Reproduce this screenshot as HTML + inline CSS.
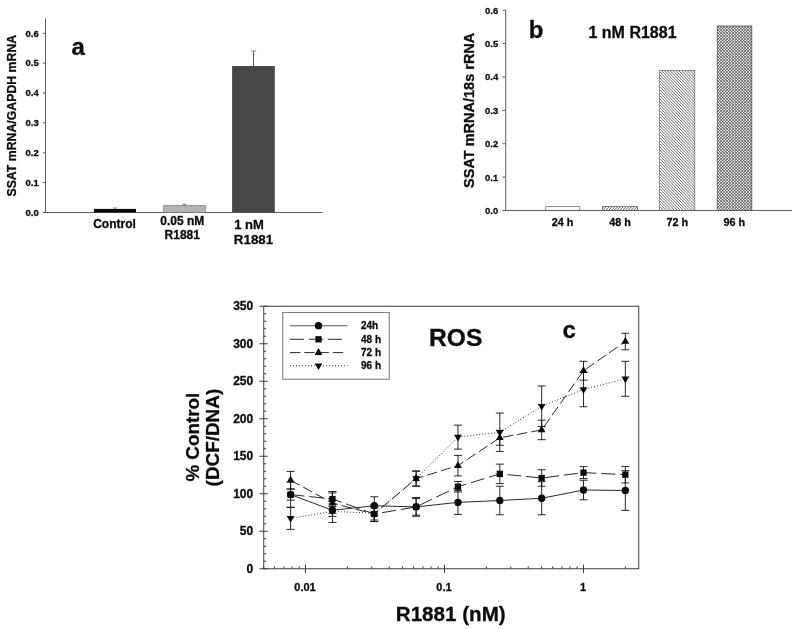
<!DOCTYPE html>
<html><head><meta charset="utf-8"><title>Figure</title>
<style>
html,body{margin:0;padding:0;background:#fff;}
body{width:800px;height:630px;overflow:hidden;}
svg{display:block;will-change:transform;filter:grayscale(1);}
svg text{font-family:"Liberation Sans",sans-serif;font-weight:bold;fill:#0c0c0c;stroke:#0c0c0c;stroke-width:0.3px;stroke-linejoin:round;}
</style></head><body>
<svg width="800" height="630" viewBox="0 0 800 630">
<defs>
<clipPath id="c48"><rect x="602.3" y="206.6" width="35.2" height="3.8"/></clipPath>
<clipPath id="c72"><rect x="659.6" y="70.4" width="35.2" height="140"/></clipPath>
<clipPath id="c96"><rect x="717.2" y="26" width="34.6" height="184.4"/></clipPath>
</defs>
<rect width="800" height="630" fill="#fff"/>
<g id="pa">
<path d="M45.5,18.5 V212.5 H322.5" fill="none" stroke="#5e5e5e" stroke-width="1"/>
<line x1="42.8" y1="212.5" x2="45.5" y2="212.5" stroke="#5e5e5e" stroke-width="1"/><text x="38.8" y="215.8" font-size="9.5" text-anchor="end">0.0</text>
<line x1="42.8" y1="182.63" x2="45.5" y2="182.63" stroke="#5e5e5e" stroke-width="1"/><text x="38.8" y="185.93" font-size="9.5" text-anchor="end">0.1</text>
<line x1="42.8" y1="152.77" x2="45.5" y2="152.77" stroke="#5e5e5e" stroke-width="1"/><text x="38.8" y="156.07" font-size="9.5" text-anchor="end">0.2</text>
<line x1="42.8" y1="122.9" x2="45.5" y2="122.9" stroke="#5e5e5e" stroke-width="1"/><text x="38.8" y="126.2" font-size="9.5" text-anchor="end">0.3</text>
<line x1="42.8" y1="93.03" x2="45.5" y2="93.03" stroke="#5e5e5e" stroke-width="1"/><text x="38.8" y="96.33" font-size="9.5" text-anchor="end">0.4</text>
<line x1="42.8" y1="63.17" x2="45.5" y2="63.17" stroke="#5e5e5e" stroke-width="1"/><text x="38.8" y="66.47" font-size="9.5" text-anchor="end">0.5</text>
<line x1="42.8" y1="33.3" x2="45.5" y2="33.3" stroke="#5e5e5e" stroke-width="1"/><text x="38.8" y="36.6" font-size="9.5" text-anchor="end">0.6</text>
<text transform="translate(16,115.7) rotate(-90)" font-size="12.3" text-anchor="middle">SSAT mRNA/GAPDH mRNA</text>
<text x="71.5" y="55.3" font-size="24">a</text>
<rect x="94" y="208.9" width="42" height="3.6" fill="#0a0a0a"/>
<path d="M115,208.9 V208 M113,208 H117" stroke="#666" stroke-width="0.7" fill="none"/>
<rect x="163.7" y="205.7" width="41.6" height="6.8" fill="#b4b4b4" stroke="#777" stroke-width="0.8"/>
<path d="M184.5,205.5 V204.3 M182.5,204.3 H186.5" stroke="#666" stroke-width="0.8" fill="none"/>
<rect x="232.1" y="66" width="42.7" height="146.5" fill="#474747"/>
<path d="M253.5,66 V51" stroke="#444" stroke-width="0.9" fill="none"/><path d="M250.8,51 H256.2" stroke="#888" stroke-width="0.9" fill="none"/>
<text x="114.5" y="227.6" font-size="12" text-anchor="middle">Control</text>
<text x="182.3" y="225.1" font-size="12" text-anchor="middle">0.05 nM</text>
<text x="182.3" y="238.9" font-size="12" text-anchor="middle">R1881</text>
<text x="234.2" y="228.8" font-size="13">1 nM</text>
<text x="233.8" y="244.3" font-size="13.4">R1881</text>
</g>
<g id="pb">
<rect x="545.7" y="206.6" width="34" height="3.8" fill="#fff" stroke="#777" stroke-width="0.8"/>
<g clip-path="url(#c48)"><path d="M601,206.6 L639,167.24 M601,209.5 L639,170.14 M601,212.4 L639,173.04 M601,215.3 L639,175.94 M601,218.2 L639,178.84 M601,221.1 L639,181.74 M601,224 L639,184.64 M601,226.9 L639,187.54 M601,229.8 L639,190.44 M601,232.7 L639,193.34 M601,235.6 L639,196.24 M601,238.5 L639,199.14 M601,241.4 L639,202.04 M601,244.3 L639,204.94 M601,247.2 L639,207.84 M601,250.1 L639,210.74 M601,253 L639,213.64" stroke="#444" stroke-width="0.85" fill="none"/></g>
<rect x="602.3" y="206.6" width="35.2" height="3.8" fill="none" stroke="#666" stroke-width="0.8"/>
<g clip-path="url(#c72)"><path d="M659,31.99 L696,70.8 M659,34.99 L696,73.8 M659,37.99 L696,76.8 M659,40.99 L696,79.8 M659,43.99 L696,82.8 M659,46.99 L696,85.8 M659,49.99 L696,88.8 M659,52.99 L696,91.8 M659,55.99 L696,94.8 M659,58.99 L696,97.8 M659,61.99 L696,100.8 M659,64.99 L696,103.8 M659,67.99 L696,106.8 M659,70.99 L696,109.8 M659,73.99 L696,112.8 M659,76.99 L696,115.8 M659,79.99 L696,118.8 M659,82.99 L696,121.8 M659,85.99 L696,124.8 M659,88.99 L696,127.8 M659,91.99 L696,130.8 M659,94.99 L696,133.8 M659,97.99 L696,136.8 M659,100.99 L696,139.8 M659,103.99 L696,142.8 M659,106.99 L696,145.8 M659,109.99 L696,148.8 M659,112.99 L696,151.8 M659,115.99 L696,154.8 M659,118.99 L696,157.8 M659,121.99 L696,160.8 M659,124.99 L696,163.8 M659,127.99 L696,166.8 M659,130.99 L696,169.8 M659,133.99 L696,172.8 M659,136.99 L696,175.8 M659,139.99 L696,178.8 M659,142.99 L696,181.8 M659,145.99 L696,184.8 M659,148.99 L696,187.8 M659,151.99 L696,190.8 M659,154.99 L696,193.8 M659,157.99 L696,196.8 M659,160.99 L696,199.8 M659,163.99 L696,202.8 M659,166.99 L696,205.8 M659,169.99 L696,208.8 M659,172.99 L696,211.8 M659,175.99 L696,214.8 M659,178.99 L696,217.8 M659,181.99 L696,220.8 M659,184.99 L696,223.8 M659,187.99 L696,226.8 M659,190.99 L696,229.8 M659,193.99 L696,232.8 M659,196.99 L696,235.8 M659,199.99 L696,238.8 M659,202.99 L696,241.8 M659,205.99 L696,244.8 M659,208.99 L696,247.8 M659,211.99 L696,250.8" stroke="#444" stroke-width="0.8" fill="none"/></g>
<rect x="659.6" y="70.4" width="35.2" height="140" fill="none" stroke="#777" stroke-width="0.8"/>
<g clip-path="url(#c96)"><path d="M716.5,-10.75 L752.5,25.25 M716.5,-7.75 L752.5,28.25 M716.5,-4.75 L752.5,31.25 M716.5,-1.75 L752.5,34.25 M716.5,1.25 L752.5,37.25 M716.5,4.25 L752.5,40.25 M716.5,7.25 L752.5,43.25 M716.5,10.25 L752.5,46.25 M716.5,13.25 L752.5,49.25 M716.5,16.25 L752.5,52.25 M716.5,19.25 L752.5,55.25 M716.5,22.25 L752.5,58.25 M716.5,25.25 L752.5,61.25 M716.5,28.25 L752.5,64.25 M716.5,31.25 L752.5,67.25 M716.5,34.25 L752.5,70.25 M716.5,37.25 L752.5,73.25 M716.5,40.25 L752.5,76.25 M716.5,43.25 L752.5,79.25 M716.5,46.25 L752.5,82.25 M716.5,49.25 L752.5,85.25 M716.5,52.25 L752.5,88.25 M716.5,55.25 L752.5,91.25 M716.5,58.25 L752.5,94.25 M716.5,61.25 L752.5,97.25 M716.5,64.25 L752.5,100.25 M716.5,67.25 L752.5,103.25 M716.5,70.25 L752.5,106.25 M716.5,73.25 L752.5,109.25 M716.5,76.25 L752.5,112.25 M716.5,79.25 L752.5,115.25 M716.5,82.25 L752.5,118.25 M716.5,85.25 L752.5,121.25 M716.5,88.25 L752.5,124.25 M716.5,91.25 L752.5,127.25 M716.5,94.25 L752.5,130.25 M716.5,97.25 L752.5,133.25 M716.5,100.25 L752.5,136.25 M716.5,103.25 L752.5,139.25 M716.5,106.25 L752.5,142.25 M716.5,109.25 L752.5,145.25 M716.5,112.25 L752.5,148.25 M716.5,115.25 L752.5,151.25 M716.5,118.25 L752.5,154.25 M716.5,121.25 L752.5,157.25 M716.5,124.25 L752.5,160.25 M716.5,127.25 L752.5,163.25 M716.5,130.25 L752.5,166.25 M716.5,133.25 L752.5,169.25 M716.5,136.25 L752.5,172.25 M716.5,139.25 L752.5,175.25 M716.5,142.25 L752.5,178.25 M716.5,145.25 L752.5,181.25 M716.5,148.25 L752.5,184.25 M716.5,151.25 L752.5,187.25 M716.5,154.25 L752.5,190.25 M716.5,157.25 L752.5,193.25 M716.5,160.25 L752.5,196.25 M716.5,163.25 L752.5,199.25 M716.5,166.25 L752.5,202.25 M716.5,169.25 L752.5,205.25 M716.5,172.25 L752.5,208.25 M716.5,175.25 L752.5,211.25 M716.5,178.25 L752.5,214.25 M716.5,181.25 L752.5,217.25 M716.5,184.25 L752.5,220.25 M716.5,187.25 L752.5,223.25 M716.5,190.25 L752.5,226.25 M716.5,193.25 L752.5,229.25 M716.5,196.25 L752.5,232.25 M716.5,199.25 L752.5,235.25 M716.5,202.25 L752.5,238.25 M716.5,205.25 L752.5,241.25 M716.5,208.25 L752.5,244.25 M716.5,211.25 L752.5,247.25 M716.5,25.75 L752.5,-10.25 M716.5,28.75 L752.5,-7.25 M716.5,31.75 L752.5,-4.25 M716.5,34.75 L752.5,-1.25 M716.5,37.75 L752.5,1.75 M716.5,40.75 L752.5,4.75 M716.5,43.75 L752.5,7.75 M716.5,46.75 L752.5,10.75 M716.5,49.75 L752.5,13.75 M716.5,52.75 L752.5,16.75 M716.5,55.75 L752.5,19.75 M716.5,58.75 L752.5,22.75 M716.5,61.75 L752.5,25.75 M716.5,64.75 L752.5,28.75 M716.5,67.75 L752.5,31.75 M716.5,70.75 L752.5,34.75 M716.5,73.75 L752.5,37.75 M716.5,76.75 L752.5,40.75 M716.5,79.75 L752.5,43.75 M716.5,82.75 L752.5,46.75 M716.5,85.75 L752.5,49.75 M716.5,88.75 L752.5,52.75 M716.5,91.75 L752.5,55.75 M716.5,94.75 L752.5,58.75 M716.5,97.75 L752.5,61.75 M716.5,100.75 L752.5,64.75 M716.5,103.75 L752.5,67.75 M716.5,106.75 L752.5,70.75 M716.5,109.75 L752.5,73.75 M716.5,112.75 L752.5,76.75 M716.5,115.75 L752.5,79.75 M716.5,118.75 L752.5,82.75 M716.5,121.75 L752.5,85.75 M716.5,124.75 L752.5,88.75 M716.5,127.75 L752.5,91.75 M716.5,130.75 L752.5,94.75 M716.5,133.75 L752.5,97.75 M716.5,136.75 L752.5,100.75 M716.5,139.75 L752.5,103.75 M716.5,142.75 L752.5,106.75 M716.5,145.75 L752.5,109.75 M716.5,148.75 L752.5,112.75 M716.5,151.75 L752.5,115.75 M716.5,154.75 L752.5,118.75 M716.5,157.75 L752.5,121.75 M716.5,160.75 L752.5,124.75 M716.5,163.75 L752.5,127.75 M716.5,166.75 L752.5,130.75 M716.5,169.75 L752.5,133.75 M716.5,172.75 L752.5,136.75 M716.5,175.75 L752.5,139.75 M716.5,178.75 L752.5,142.75 M716.5,181.75 L752.5,145.75 M716.5,184.75 L752.5,148.75 M716.5,187.75 L752.5,151.75 M716.5,190.75 L752.5,154.75 M716.5,193.75 L752.5,157.75 M716.5,196.75 L752.5,160.75 M716.5,199.75 L752.5,163.75 M716.5,202.75 L752.5,166.75 M716.5,205.75 L752.5,169.75 M716.5,208.75 L752.5,172.75 M716.5,211.75 L752.5,175.75 M716.5,214.75 L752.5,178.75 M716.5,217.75 L752.5,181.75 M716.5,220.75 L752.5,184.75 M716.5,223.75 L752.5,187.75 M716.5,226.75 L752.5,190.75 M716.5,229.75 L752.5,193.75 M716.5,232.75 L752.5,196.75 M716.5,235.75 L752.5,199.75 M716.5,238.75 L752.5,202.75 M716.5,241.75 L752.5,205.75 M716.5,244.75 L752.5,208.75 M716.5,247.75 L752.5,211.75" stroke="#333" stroke-width="0.78" fill="none"/></g>
<rect x="717.2" y="26" width="34.6" height="184.4" fill="none" stroke="#555" stroke-width="0.8"/>
<path d="M505.7,10.2 V210.5 H792" fill="none" stroke="#5e5e5e" stroke-width="1"/>
<line x1="502.4" y1="210.5" x2="505.7" y2="210.5" stroke="#5e5e5e" stroke-width="1"/><text x="498.2" y="213.9" font-size="9.5" text-anchor="end">0.0</text>
<line x1="502.4" y1="177.12" x2="505.7" y2="177.12" stroke="#5e5e5e" stroke-width="1"/><text x="498.2" y="180.52" font-size="9.5" text-anchor="end">0.1</text>
<line x1="502.4" y1="143.73" x2="505.7" y2="143.73" stroke="#5e5e5e" stroke-width="1"/><text x="498.2" y="147.13" font-size="9.5" text-anchor="end">0.2</text>
<line x1="502.4" y1="110.35" x2="505.7" y2="110.35" stroke="#5e5e5e" stroke-width="1"/><text x="498.2" y="113.75" font-size="9.5" text-anchor="end">0.3</text>
<line x1="502.4" y1="76.97" x2="505.7" y2="76.97" stroke="#5e5e5e" stroke-width="1"/><text x="498.2" y="80.37" font-size="9.5" text-anchor="end">0.4</text>
<line x1="502.4" y1="43.58" x2="505.7" y2="43.58" stroke="#5e5e5e" stroke-width="1"/><text x="498.2" y="46.98" font-size="9.5" text-anchor="end">0.5</text>
<line x1="502.4" y1="10.2" x2="505.7" y2="10.2" stroke="#5e5e5e" stroke-width="1"/><text x="498.2" y="13.6" font-size="9.5" text-anchor="end">0.6</text>
<text transform="translate(474.4,110.3) rotate(-90)" font-size="14.5" text-anchor="middle">SSAT mRNA/18s rRNA</text>
<text x="528.8" y="38.2" font-size="24">b</text>
<text x="588.5" y="38.2" font-size="16">1 nM R1881</text>
<text x="562.6" y="226.3" font-size="10.8" text-anchor="middle">24 h</text>
<text x="620" y="226.3" font-size="10.8" text-anchor="middle">48 h</text>
<text x="677.2" y="226.3" font-size="10.8" text-anchor="middle">72 h</text>
<text x="734.3" y="226.3" font-size="10.8" text-anchor="middle">96 h</text>
</g>
<g id="pc">
<rect x="263.75" y="306.25" width="375.0" height="262.5" fill="none" stroke="#3c3c3c" stroke-width="1"/>
<text x="253.2" y="572.95" font-size="12" text-anchor="end">0</text>
<text x="253.2" y="535.45" font-size="12" text-anchor="end">50</text>
<text x="253.2" y="497.95" font-size="12" text-anchor="end">100</text>
<text x="253.2" y="460.45" font-size="12" text-anchor="end">150</text>
<text x="253.2" y="422.95" font-size="12" text-anchor="end">200</text>
<text x="253.2" y="385.45" font-size="12" text-anchor="end">250</text>
<text x="253.2" y="347.95" font-size="12" text-anchor="end">300</text>
<text x="253.2" y="310.45" font-size="12" text-anchor="end">350</text>
<path d="M259.45,568.75 H267.75 M263.75,561.25 H266.15 M263.75,553.75 H266.15 M263.75,546.25 H266.15 M263.75,538.75 H266.15 M259.45,531.25 H267.75 M263.75,523.75 H266.15 M263.75,516.25 H266.15 M263.75,508.75 H266.15 M263.75,501.25 H266.15 M259.45,493.75 H267.75 M263.75,486.25 H266.15 M263.75,478.75 H266.15 M263.75,471.25 H266.15 M263.75,463.75 H266.15 M259.45,456.25 H267.75 M263.75,448.75 H266.15 M263.75,441.25 H266.15 M263.75,433.75 H266.15 M263.75,426.25 H266.15 M259.45,418.75 H267.75 M263.75,411.25 H266.15 M263.75,403.75 H266.15 M263.75,396.25 H266.15 M263.75,388.75 H266.15 M259.45,381.25 H267.75 M263.75,373.75 H266.15 M263.75,366.25 H266.15 M263.75,358.75 H266.15 M263.75,351.25 H266.15 M259.45,343.75 H267.75 M263.75,336.25 H266.15 M263.75,328.75 H266.15 M263.75,321.25 H266.15 M263.75,313.75 H266.15 M259.45,306.25 H267.75 M263.66,566.35 V568.75 M274.66,566.35 V568.75 M283.97,566.35 V568.75 M292.03,566.35 V568.75 M299.14,566.35 V568.75 M305.5,564.75 V573.05 M347.34,566.35 V568.75 M371.82,566.35 V568.75 M389.19,566.35 V568.75 M402.66,566.35 V568.75 M413.66,566.35 V568.75 M422.97,566.35 V568.75 M431.03,566.35 V568.75 M438.14,566.35 V568.75 M444.5,564.75 V573.05 M486.34,566.35 V568.75 M510.82,566.35 V568.75 M528.19,566.35 V568.75 M541.66,566.35 V568.75 M552.66,566.35 V568.75 M561.97,566.35 V568.75 M570.03,566.35 V568.75 M577.14,566.35 V568.75 M583.5,564.75 V573.05 M625.34,566.35 V568.75" stroke="#3c3c3c" stroke-width="1" fill="none"/>
<text x="305" y="591" font-size="11" text-anchor="middle">0.01</text>
<text x="444" y="591" font-size="11" text-anchor="middle">0.1</text>
<text x="583" y="591" font-size="11" text-anchor="middle">1</text>
<text x="395.8" y="621.2" font-size="20.6">R1881 (nM)</text>
<text transform="translate(199,437.2) rotate(-90)" font-size="18.8" text-anchor="middle">% Control</text>
<text transform="translate(219.3,437.6) rotate(-90)" font-size="18.9" text-anchor="middle">(DCF/DNA)</text>
<text x="429" y="345.9" font-size="24.6">ROS</text>
<text x="562.5" y="337.6" font-size="24">c</text>
<rect x="282.8" y="312.4" width="106.4" height="66.8" fill="#fff" stroke="#666" stroke-width="0.9"/>
<path d="M290.6,488.95 V500.2 M286.6,488.95 H294.6 M286.6,500.2 H294.6 M332.44,504.02 V516.48 M328.44,504.02 H336.44 M328.44,516.48 H336.44 M374.28,496.75 V514.75 M370.28,496.75 H378.28 M370.28,514.75 H378.28 M416.13,498.62 V515.12 M412.13,498.62 H420.13 M412.13,515.12 H420.13 M457.97,490.38 V514.38 M453.97,490.38 H461.97 M453.97,514.38 H461.97 M499.81,486.25 V514.75 M495.81,486.25 H503.81 M495.81,514.75 H503.81 M541.66,481.75 V514.75 M537.66,481.75 H545.66 M537.66,514.75 H545.66 M583.5,480.25 V499.75 M579.5,480.25 H587.5 M579.5,499.75 H587.5 M625.34,470.65 V510.4 M621.34,470.65 H629.34 M621.34,510.4 H629.34" stroke="#111" stroke-width="0.9" fill="none"/>
<polyline points="290.6,494.57 332.44,510.25 374.28,505.75 416.13,506.88 457.97,502.38 499.81,500.5 541.66,498.25 583.5,490 625.34,490.52" fill="none" stroke="#111" stroke-width="0.9"/>
<g fill="#0a0a0a"><circle cx="290.6" cy="494.57" r="3.65"/><circle cx="332.44" cy="510.25" r="3.65"/><circle cx="374.28" cy="505.75" r="3.65"/><circle cx="416.13" cy="506.88" r="3.65"/><circle cx="457.97" cy="502.38" r="3.65"/><circle cx="499.81" cy="500.5" r="3.65"/><circle cx="541.66" cy="498.25" r="3.65"/><circle cx="583.5" cy="490" r="3.65"/><circle cx="625.34" cy="490.52" r="3.65"/></g>
<path d="M290.6,481.97 V507.18 M286.6,481.97 H294.6 M286.6,507.18 H294.6 M332.44,491.5 V506.5 M328.44,491.5 H336.44 M328.44,506.5 H336.44 M374.28,508 V520 M370.28,508 H378.28 M370.28,520 H378.28 M416.13,497.5 V516.25 M412.13,497.5 H420.13 M412.13,516.25 H420.13 M457.97,481.45 V491.95 M453.97,481.45 H461.97 M453.97,491.95 H461.97 M499.81,464.12 V483.62 M495.81,464.12 H503.81 M495.81,483.62 H503.81 M541.66,469.75 V486.25 M537.66,469.75 H545.66 M537.66,486.25 H545.66 M583.5,466.6 V478.6 M579.5,466.6 H587.5 M579.5,478.6 H587.5 M625.34,466.45 V482.95 M621.34,466.45 H629.34 M621.34,482.95 H629.34" stroke="#111" stroke-width="0.9" fill="none"/>
<polyline points="290.6,494.57 332.44,499 374.28,514 416.13,506.88 457.97,486.7 499.81,473.88 541.66,478 583.5,472.6 625.34,474.7" fill="none" stroke="#111" stroke-width="0.9" stroke-dasharray="14 4.9"/>
<g fill="#0a0a0a"><rect x="287.45" y="491.43" width="6.3" height="6.3"/><rect x="329.29" y="495.85" width="6.3" height="6.3"/><rect x="371.13" y="510.85" width="6.3" height="6.3"/><rect x="412.98" y="503.73" width="6.3" height="6.3"/><rect x="454.82" y="483.55" width="6.3" height="6.3"/><rect x="496.66" y="470.73" width="6.3" height="6.3"/><rect x="538.51" y="474.85" width="6.3" height="6.3"/><rect x="580.35" y="469.45" width="6.3" height="6.3"/><rect x="622.19" y="471.55" width="6.3" height="6.3"/></g>
<path d="M290.6,471.4 V489.1 M286.6,471.4 H294.6 M286.6,489.1 H294.6 M332.44,492.93 V513.33 M328.44,492.93 H336.44 M328.44,513.33 H336.44 M374.28,506.5 V521.5 M370.28,506.5 H378.28 M370.28,521.5 H378.28 M416.13,471.1 V486.1 M412.13,471.1 H420.13 M412.13,486.1 H420.13 M457.97,455.35 V475.9 M453.97,455.35 H461.97 M453.97,475.9 H461.97 M499.81,430.3 V445.3 M495.81,430.3 H503.81 M495.81,445.3 H503.81 M541.66,420.18 V439.68 M537.66,420.18 H545.66 M537.66,439.68 H545.66 M583.5,361.3 V380.2 M579.5,361.3 H587.5 M579.5,380.2 H587.5 M625.34,333.25 V349.75 M621.34,333.25 H629.34 M621.34,349.75 H629.34" stroke="#111" stroke-width="0.9" fill="none"/>
<polyline points="290.6,480.25 332.44,503.12 374.28,514 416.13,478.6 457.97,465.62 499.81,437.8 541.66,429.93 583.5,370.75 625.34,341.5" fill="none" stroke="#111" stroke-width="0.9" stroke-dasharray="10.3 4"/>
<g fill="#0a0a0a"><path d="M290.6,475.75 L294.5,482.55 L286.7,482.55 Z"/><path d="M332.44,498.62 L336.34,505.43 L328.54,505.43 Z"/><path d="M374.28,509.5 L378.18,516.3 L370.38,516.3 Z"/><path d="M416.13,474.1 L420.03,480.9 L412.23,480.9 Z"/><path d="M457.97,461.12 L461.87,467.93 L454.07,467.93 Z"/><path d="M499.81,433.3 L503.71,440.1 L495.91,440.1 Z"/><path d="M541.66,425.43 L545.56,432.23 L537.76,432.23 Z"/><path d="M583.5,366.25 L587.4,373.05 L579.6,373.05 Z"/><path d="M625.34,337 L629.24,343.8 L621.44,343.8 Z"/></g>
<path d="M290.6,507.47 V529.38 M286.6,507.47 H294.6 M286.6,529.38 H294.6 M332.44,500.27 V522.48 M328.44,500.27 H336.44 M328.44,522.48 H336.44 M374.28,505 V521.5 M370.28,505 H378.28 M370.28,521.5 H378.28 M416.13,471.1 V486.1 M412.13,471.1 H420.13 M412.13,486.1 H420.13 M457.97,425.12 V449.12 M453.97,425.12 H461.97 M453.97,449.12 H461.97 M499.81,413.05 V451.45 M495.81,413.05 H503.81 M495.81,451.45 H503.81 M541.66,385.98 V426.48 M537.66,385.98 H545.66 M537.66,426.48 H545.66 M583.5,372.25 V406.75 M579.5,372.25 H587.5 M579.5,406.75 H587.5 M625.34,361.3 V396.25 M621.34,361.3 H629.34 M621.34,396.25 H629.34" stroke="#111" stroke-width="0.9" fill="none"/>
<polyline points="290.6,518.42 332.44,511.38 374.28,513.25 416.13,478.6 457.97,437.12 499.81,432.25 541.66,406.23 583.5,389.5 625.34,378.77" fill="none" stroke="#111" stroke-width="0.9" stroke-dasharray="0.9 2.1"/>
<g fill="#0a0a0a"><path d="M290.6,522.82 L294.5,516.12 L286.7,516.12 Z"/><path d="M332.44,515.77 L336.34,509.07 L328.54,509.07 Z"/><path d="M374.28,517.65 L378.18,510.95 L370.38,510.95 Z"/><path d="M416.13,483 L420.03,476.3 L412.23,476.3 Z"/><path d="M457.97,441.52 L461.87,434.82 L454.07,434.82 Z"/><path d="M499.81,436.65 L503.71,429.95 L495.91,429.95 Z"/><path d="M541.66,410.62 L545.56,403.93 L537.76,403.93 Z"/><path d="M583.5,393.9 L587.4,387.2 L579.6,387.2 Z"/><path d="M625.34,383.17 L629.24,376.47 L621.44,376.47 Z"/></g>
<line x1="290" y1="325.7" x2="347.5" y2="325.7" stroke="#555" stroke-width="1.1"/><g fill="#0a0a0a"><circle cx="318.5" cy="325.7" r="3.65"/></g><text x="361" y="329.4" font-size="10">24h</text>
<line x1="290" y1="339.3" x2="346.5" y2="339.3" stroke="#111" stroke-width="0.9" stroke-dasharray="14 4.9"/><g fill="#0a0a0a"><rect x="315.35" y="336.15" width="6.3" height="6.3"/></g><text x="361" y="343" font-size="10">48 h</text>
<line x1="290" y1="352.6" x2="346.5" y2="352.6" stroke="#111" stroke-width="0.9" stroke-dasharray="10.3 4"/><g fill="#0a0a0a"><path d="M318.5,348.1 L322.4,354.9 L314.6,354.9 Z"/></g><text x="361" y="356.3" font-size="10">72 h</text>
<line x1="290" y1="365.7" x2="347.5" y2="365.7" stroke="#111" stroke-width="0.9" stroke-dasharray="0.9 2.1"/><g fill="#0a0a0a"><path d="M318.5,370.1 L322.4,363.4 L314.6,363.4 Z"/></g><text x="361" y="369.4" font-size="10">96 h</text>
</g>
</svg>
</body></html>
